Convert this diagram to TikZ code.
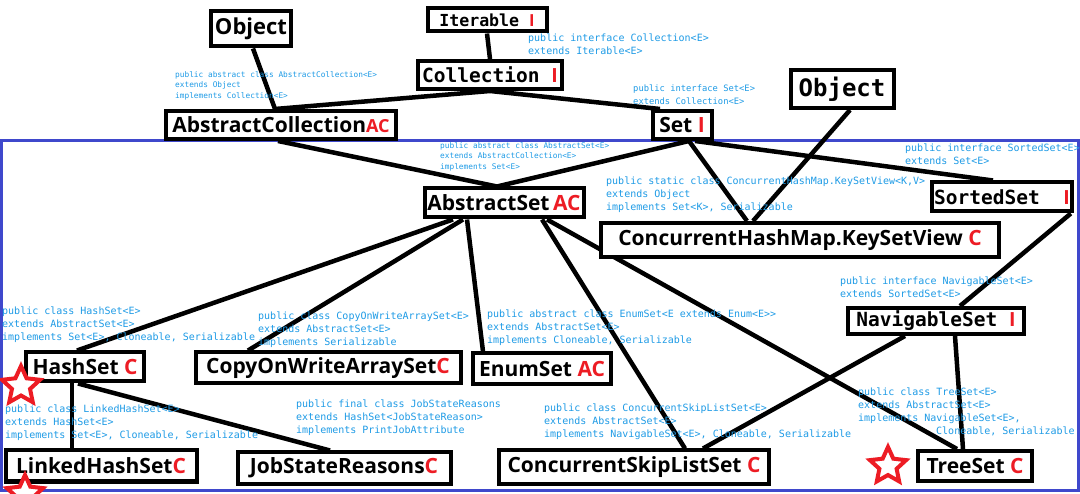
\documentclass[tikz,border=0pt]{standalone}
\usepackage{fontspec}
\setmainfont{Open Sans}
\newfontfamily\codefont{DejaVu Sans Mono}
\usetikzlibrary{shapes.geometric,backgrounds}
\definecolor{tagred}{HTML}{ED1C24}
\definecolor{declblue}{HTML}{1E9BE6}
\definecolor{frameblue}{HTML}{3F48CC}
\newcommand{\kindC}{\textcolor{tagred}{C}}
\newcommand{\kindAC}{\textcolor{tagred}{AC}}
\newcommand{\kindI}{{\rmfamily\bfseries\color{tagred}I}}
\tikzset{box/.style={draw,line width=4pt,fill=white,inner sep=2pt,font=\fontsize{21}{24}\selectfont\bfseries},monobox/.style={box,font=\codefont\fontsize{19.5}{22}\selectfont\bfseries},decl/.style={anchor=north west,inner sep=0pt,align=left,text=declblue,font=\codefont\fontsize{10}{13}\selectfont},smalldecl/.style={decl,font=\codefont\fontsize{7.8}{10.5}\selectfont},link/.style={line width=4.5pt},redstar/.style={star,star points=5,star point ratio=2.1,draw=tagred,line width=4pt,fill=white,inner sep=0pt}}

\begin{document}
\begin{tikzpicture}[x=1pt,y=-1pt]
\path[use as bounding box] (0,0) rectangle (1080,494);
\clip (0,0) rectangle (1080,494);
% top part
\node[box,minimum width=80,minimum height=35,font=\fontsize{22}{24}\selectfont\bfseries] (objl) at (251,29) {Object};
\node[monobox,minimum width=119,minimum height=23,font=\codefont\fontsize{16.6}{19}\selectfont\bfseries] (iter) at (487,20) {Iterable\ \kindI};
\node[monobox,minimum width=144,minimum height=28] (coll) at (490,75) {Collection\ \kindI};
\node[box,minimum width=230,minimum height=28] (abscoll) at (281,125) {AbstractCollection{\fontsize{18}{20}\selectfont\kindAC}};
\node[box,minimum width=59,minimum height=28] (set) at (682,125) {Set \kindI};
\node[monobox,minimum width=103,minimum height=38,font=\codefont\fontsize{24}{26}\selectfont\bfseries] (objr) at (842,89) {Object};
% sets
\node[box,minimum width=159,minimum height=29] (absset) at (504,203) {AbstractSet\,\kindAC};
\node[box,minimum width=398,minimum height=34] (keyset) at (800,240) {ConcurrentHashMap.KeySetView\ \kindC};
\node[monobox,minimum width=139,minimum height=29] (sorted) at (1002,197) {SortedSet\ \ \kindI};
\node[monobox,minimum width=176,minimum height=26] (nav) at (936,321) {NavigableSet\ \kindI};
\node[box,minimum width=118,minimum height=29] (hashset) at (85,367) {HashSet \kindC};
\node[box,minimum width=265,minimum height=31] (cow) at (328,368) {CopyOnWriteArraySet\kindC};
\node[box,minimum width=138,minimum height=31] (enumset) at (542,369) {EnumSet \kindAC};
\node[box,minimum width=191,minimum height=31] (linked) at (101,466) {LinkedHashSet\kindC};
\node[box,minimum width=213,minimum height=31] (jsr) at (344,468) {JobStateReasons\kindC};
\node[box,minimum width=270,minimum height=33] (csl) at (634,467) {ConcurrentSkipListSet \kindC};
\node[box,minimum width=114,minimum height=30] (treeset) at (975,466) {TreeSet \kindC};
% declarations
\node[decl] (collnote) at (528,34) {public interface Collection<E>\\extends Iterable<E>};
\node[smalldecl] (abscollnote) at (175,71) {public abstract class AbstractCollection<E>\\extends Object\\implements Collection<E>};
\node[decl,font=\codefont\fontsize{8.8}{13}\selectfont] (setnote) at (633,85) {public interface Set<E>\\extends Collection<E>};
\node[smalldecl] (abssetnote) at (440,142) {public abstract class AbstractSet<E>\\extends AbstractCollection<E>\\implements Set<E>};
\node[decl] (keysetnote) at (606,177) {public static class ConcurrentHashMap.KeySetView<K,V>\\extends Object\\implements Set<K>, Serializable};
\node[decl] (sortednote) at (905,144) {public interface SortedSet<E>\\extends Set<E>};
\node[decl] (navnote) at (840,277) {public interface NavigableSet<E>\\extends SortedSet<E>};
\node[decl] (hashsetnote) at (2,307) {public class HashSet<E>\\extends AbstractSet<E>\\implements Set<E>, Cloneable, Serializable};
\node[decl] (cownote) at (258,312) {public class CopyOnWriteArraySet<E>\\extends AbstractSet<E>\\implements Serializable};
\node[decl] (enumnote) at (487,310) {public abstract class EnumSet<E extends Enum<E>>\\extends AbstractSet<E>\\implements Cloneable, Serializable};
\node[decl] (linkednote) at (5,405) {public class LinkedHashSet<E>\\extends HashSet<E>\\implements Set<E>, Cloneable, Serializable};
\node[decl] (jsrnote) at (296,400) {public final class JobStateReasons\\extends HashSet<JobStateReason>\\implements PrintJobAttribute};
\node[decl] (cslnote) at (544,404) {public class ConcurrentSkipListSet<E>\\extends AbstractSet<E>\\implements NavigableSet<E>, Cloneable, Serializable};
\node[decl] (treenote) at (858,388) {public class TreeSet<E>\\extends AbstractSet<E>\\implements NavigableSet<E>,\\\hspace*{78pt}Cloneable, Serializable};
% stars
\node[redstar,minimum size=40] (star1) at (21,386) {};
\node[redstar,minimum size=38] (star2) at (25,494) {};
\node[redstar,minimum size=38] (star3) at (888,466) {};
\begin{scope}[on background layer]
\fill[white] (0,0) rectangle (1080,494);
\draw[frameblue,line width=3pt] (1.5,141) rectangle (1078,490);
\foreach \a/\s/\b/\t in {objl.south/2/abscoll.north/-6,iter.south/0/coll.north/0,coll.south/0/abscoll.north/-6,coll.south/0/set.north/-22,abscoll.south/-3/absset.north/-7,set.south/7/absset.north/-7,set.south/7/keyset.north/-53,objr.south/8/keyset.north/-47,set.south/13/sorted.north/-9,sorted.south east/-3/nav.north/24,absset.south/-51/hashset.north/-8,absset.south/-41/cow.north/-80,absset.south/-37/enumset.north/-59,absset.south/38/csl.north/51,absset.south/43/treeset.north/-18,nav.south/-31/csl.north/69,nav.south/19/treeset.north/-12,hashset.south/-13/linked.north/-29,hashset.south/-7/jsr.north/-14}
  \draw[link] ([xshift=\s]\a) -- ([xshift=\t]\b);
\end{scope}
\end{tikzpicture}
\end{document}
